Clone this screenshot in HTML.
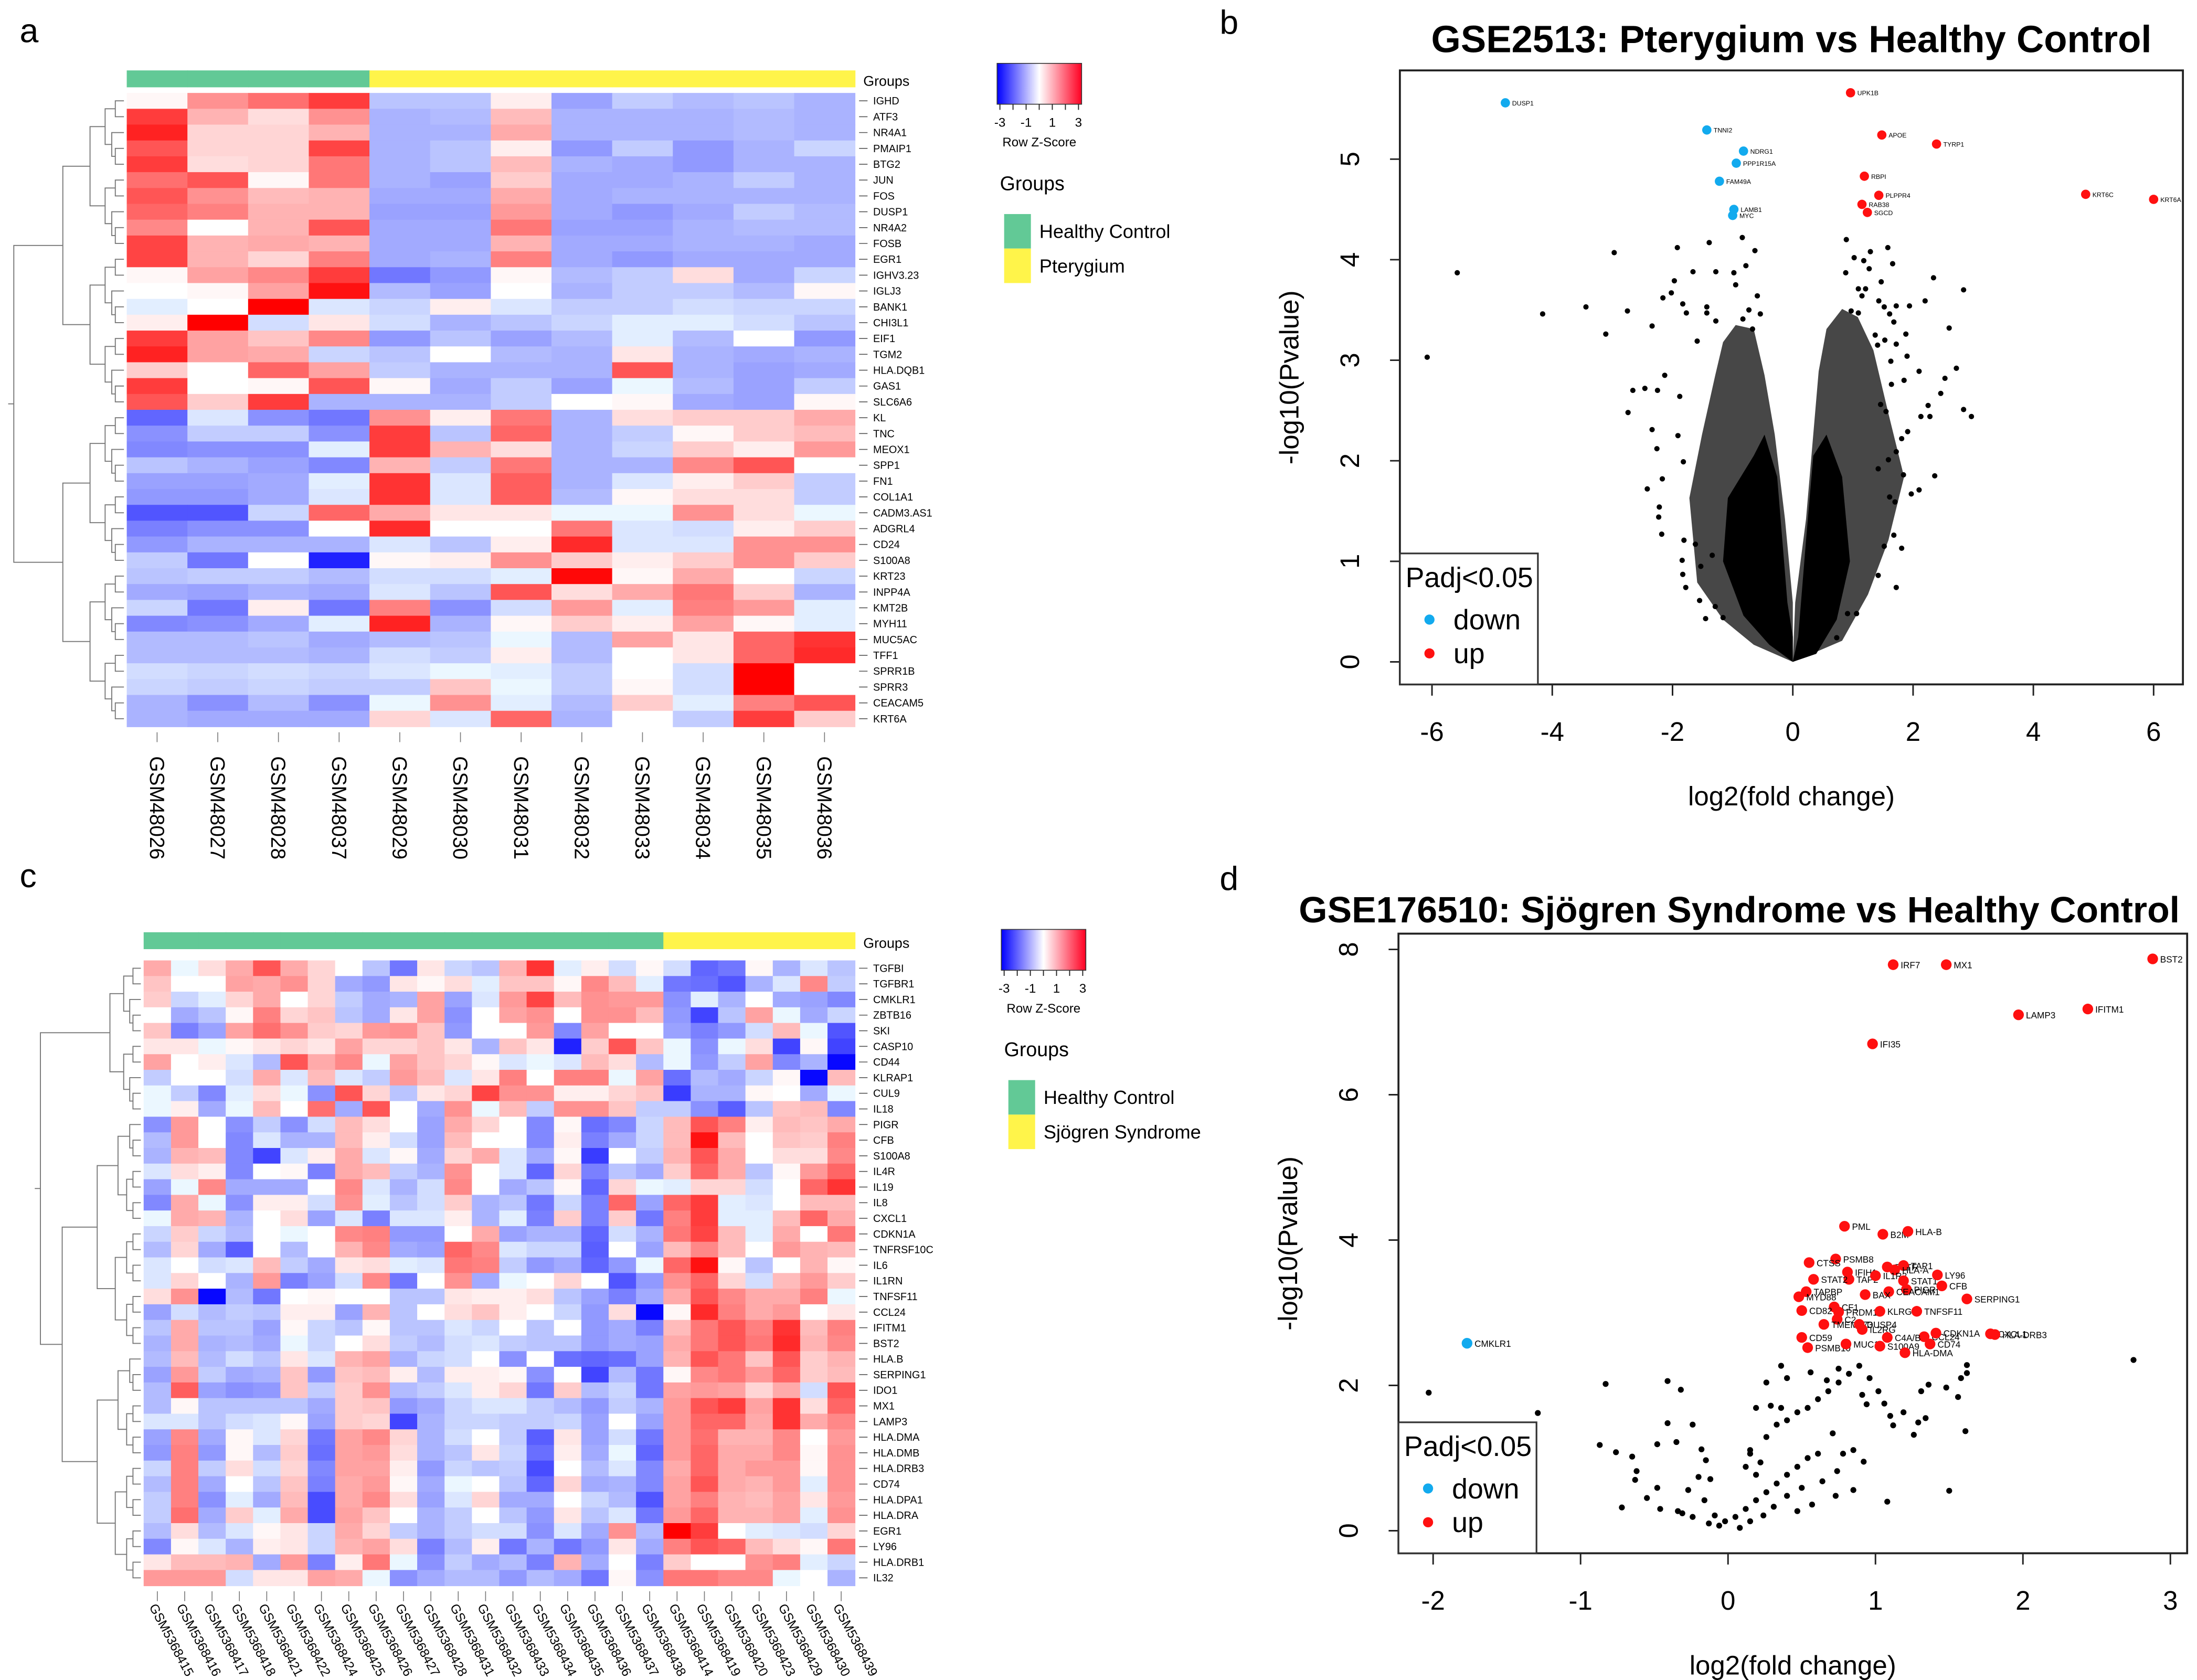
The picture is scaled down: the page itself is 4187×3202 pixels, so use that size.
<!DOCTYPE html>
<html><head><meta charset="utf-8">
<style>
html,body{margin:0;padding:0;background:#fff;}
svg{display:block;font-family:"Liberation Sans",Arial,sans-serif;}
</style></head>
<body>
<svg id="fig" width="4187" height="3202" viewBox="0 0 1560 1193" preserveAspectRatio="none" xmlns="http://www.w3.org/2000/svg">
<rect x="0" y="0" width="1560" height="1193" fill="#fff"/>
<text x="14" y="30" font-size="24">a</text>
<text x="866" y="24" font-size="24">b</text>
<text x="14" y="630" font-size="24">c</text>
<text x="866" y="632" font-size="24">d</text>
<g id="ga"></g>
<g id="gc"></g>
<g id="gb"></g>
<g id="gd"></g>
</svg>
<script>
// ---------- Heatmap A data ----------
const genesA=["IGHD","ATF3","NR4A1","PMAIP1","BTG2","JUN","FOS","DUSP1","NR4A2","FOSB","EGR1","IGHV3.23","IGLJ3","BANK1","CHI3L1","EIF1","TGM2","HLA.DQB1","GAS1","SLC6A6","KL","TNC","MEOX1","SPP1","FN1","COL1A1","CADM3.AS1","ADGRL4","CD24","S100A8","KRT23","INPP4A","KMT2B","MYH11","MUC5AC","TFF1","SPRR1B","SPRR3","CEACAM5","KRT6A"];
const samplesA=["GSM48026","GSM48027","GSM48028","GSM48037","GSM48029","GSM48030","GSM48031","GSM48032","GSM48033","GSM48034","GSM48035","GSM48036"];
const groupsA=[0,0,0,0,1,1,1,1,1,1,1,1];
const zA=[
[0.1,1.3,1.7,2.3,-0.7,-0.7,0.2,-1.1,-0.6,-0.8,-0.7,-0.9],
[2.3,0.9,0.4,1.3,-0.9,-0.8,0.8,-0.9,-0.9,-0.9,-0.8,-0.9],
[2.6,0.5,0.5,0.9,-0.9,-0.9,1.0,-0.9,-0.9,-0.9,-0.8,-0.9],
[2.0,0.5,0.5,2.2,-0.9,-0.7,0.2,-1.2,-0.6,-1.2,-0.9,-0.5],
[2.3,0.4,0.5,1.6,-0.9,-0.7,0.8,-0.9,-1.0,-1.2,-0.9,-0.9],
[1.7,2.0,0.1,1.6,-0.9,-1.1,0.6,-1.0,-1.0,-0.9,-0.6,-0.9],
[2.0,1.3,0.8,0.9,-1.0,-1.0,1.0,-1.0,-0.9,-0.9,-0.9,-0.9],
[1.8,1.5,0.9,0.9,-1.1,-1.1,1.2,-1.0,-1.2,-1.0,-0.6,-0.8],
[1.4,0,0.9,2.0,-1.0,-1.0,1.6,-1.1,-1.1,-0.9,-0.8,-0.8],
[2.2,0.9,1.0,0.9,-1.0,-1.0,0.9,-1.0,-1.0,-0.9,-0.9,-1.0],
[2.2,0.9,0.5,1.5,-1.0,-0.9,1.5,-1.0,-1.2,-1.0,-1.0,-1.0],
[0.1,1.1,1.4,2.3,-1.6,-1.2,0.1,-0.8,-0.6,0.4,-1.0,-0.5],
[0,0.1,1.1,2.8,-0.8,-1.1,0,-0.9,-0.6,-0.6,-0.8,0.1],
[-0.2,0,3,-0.3,-0.5,0.2,-0.3,-0.6,-0.6,-0.4,-0.5,-0.5],
[0.2,3,-0.4,0.3,-0.4,-0.9,-0.7,-0.5,-0.2,-0.2,-0.4,-0.7],
[2.3,1.1,0.7,1.4,-1.2,-0.7,-1.1,-0.8,-0.2,-0.8,0,-1.2],
[2.6,1.1,1.0,-0.5,-0.7,0,-0.8,-0.9,0.3,-0.9,-1.0,-0.9],
[0.6,0,1.8,1.1,-0.6,-0.9,-0.9,-0.9,2.0,-0.9,-1.1,-1.0],
[2.3,0,0.1,2.0,0.1,-1.0,-0.6,-1.1,-0.1,-0.8,-1.1,-0.6],
[2.0,0.6,2.3,-0.9,-0.9,-0.9,-0.6,0,0.1,-1.0,-1.1,0.1],
[-1.8,-0.3,-1.3,-1.6,1.3,0.2,1.6,-0.9,0.4,0.6,0.6,1.0],
[-1.3,-0.6,-0.6,-1.3,2.3,-0.7,1.8,-0.9,-0.6,0.1,0.6,0.8],
[-1.4,-1.3,-1.3,-0.2,2.3,0.9,0.4,-0.9,-0.5,0.6,0.2,1.2],
[-0.7,-0.9,-1.1,-1.4,0.9,-0.6,1.6,-0.9,-0.9,1.4,2.0,0],
[-1.1,-1.1,-1.0,-0.2,2.4,-0.3,1.9,-0.9,-0.3,0.2,0.6,-0.6],
[-1.2,-1.2,-1.0,-0.3,2.4,-0.3,1.9,-0.8,0.1,0.4,0.4,-0.6],
[-2.0,-2.0,-0.5,1.8,1.0,0.3,0.3,-0.1,-0.1,1.3,0.4,-0.1],
[-1.5,-1.3,-1.3,0,2.5,0,0,1.6,-0.3,-0.4,0.2,0.6],
[-1.2,-0.9,-0.9,-0.9,-0.3,-0.7,0.2,2.5,-0.3,-0.3,1.3,1.3],
[-0.6,-1.6,0,-2.6,0.1,0.2,1.3,0.6,0.2,0.6,1.3,0.6],
[-0.7,-0.6,-0.6,-0.8,-0.4,-0.4,-0.2,2.9,0.1,1.0,0,-0.5],
[-1.0,-1.1,-0.9,-1.0,-0.3,-0.7,2.0,0.4,1.0,1.6,0.6,-0.9],
[-0.5,-1.6,0.2,-1.6,1.5,-1.3,-0.4,1.2,-0.2,1.5,1.2,-0.2],
[-1.4,-1.3,-1.0,-0.2,2.6,-0.9,0.1,0.6,0.2,1.1,0.1,-0.2],
[-0.8,-0.8,-0.7,-1.0,-0.8,-0.7,-0.1,-0.8,1.1,0.3,1.8,2.4],
[-0.8,-0.8,-0.8,-0.9,-0.4,-0.6,0.2,-0.8,0,0.3,1.8,2.5],
[-0.4,-0.5,-0.4,-0.5,-0.3,-0.1,-0.2,-0.6,0,-0.4,3,0],
[-0.5,-0.6,-0.5,-0.6,-0.6,0.7,-0.1,-0.6,0.1,-0.4,3,0],
[-0.9,-1.3,-0.8,-1.3,-0.1,1.3,-0.2,-0.8,0.6,-0.2,1.5,2.0],
[-0.9,-1.0,-1.0,-1.0,0.5,-0.3,1.8,-0.9,0,-0.6,2.3,0.6]];

// ---------- Heatmap C data ----------
const genesC=["TGFBI","TGFBR1","CMKLR1","ZBTB16","SKI","CASP10","CD44","KLRAP1","CUL9","IL18","PIGR","CFB","S100A8","IL4R","IL19","IL8","CXCL1","CDKN1A","TNFRSF10C","IL6","IL1RN","TNFSF11","CCL24","IFITM1","BST2","HLA.B","SERPING1","IDO1","MX1","LAMP3","HLA.DMA","HLA.DMB","HLA.DRB3","CD74","HLA.DPA1","HLA.DRA","EGR1","LY96","HLA.DRB1","IL32"];
const samplesC=["GSM5368415","GSM5368416","GSM5368417","GSM5368418","GSM5368421","GSM5368422","GSM5368424","GSM5368425","GSM5368426","GSM5368427","GSM5368428","GSM5368431","GSM5368432","GSM5368433","GSM5368434","GSM5368435","GSM5368436","GSM5368437","GSM5368438","GSM5368414","GSM5368419","GSM5368420","GSM5368423","GSM5368429","GSM5368430","GSM5368439"];
const groupsC=[0,0,0,0,0,0,0,0,0,0,0,0,0,0,0,0,0,0,0,1,1,1,1,1,1,1];
const zC=[
[1.0,-0.1,0.4,1.0,2.0,1.0,0.5,0,-0.7,-1.6,0.3,-0.5,-0.7,0.9,2.4,-0.2,0.2,-0.4,0.1,-0.4,-1.8,-1.6,0.1,-0.9,-0.3,-0.7],
[0.7,0,0,1.1,1.0,1.3,0.5,-1.0,-1.2,0.3,0.1,0.4,-0.2,0.7,0.7,0.1,1.4,0.8,-0.2,-1.6,-1.7,-2.0,-0.9,-0.3,1.4,-0.6],
[0.6,-0.5,-0.2,0.5,1.0,0,0.5,-0.6,-1.0,-0.9,1.1,-1.1,-0.3,1.2,2.2,0.8,1.3,1.2,1.2,-1.3,-0.2,-0.9,0,-1.0,-1.1,-1.4],
[0,-1.0,-0.7,0.1,1.5,0.5,0.7,-0.7,-1.0,0.3,1.1,-1.3,0,1.1,1.3,0,1.3,1.3,0.8,-1.2,-2.2,-0.7,1.1,-0.1,-1.0,-0.5],
[0.7,-1.5,-1.1,1.1,1.7,1.3,0.6,0.5,1.2,1.3,0.7,-1.2,0,0,1.2,-1.4,1.1,0,0,-1.1,-1.5,-1.2,-0.4,0.8,-0.1,-2.0],
[0.3,0.3,-0.1,0.1,0.3,0.5,0.3,1.1,0.5,0.5,0.7,0.3,-0.9,0.7,0.3,-2.6,0.6,2.0,0.7,-0.1,-1.3,-0.1,0.4,-2.2,0.1,-2.2],
[1.1,0,0.2,-0.3,-0.8,2.0,1.0,1.4,-0.1,1.1,0.7,0.5,0.1,-0.3,-0.1,-0.3,0.8,0.4,-0.8,-0.1,-1.2,-0.6,1.1,-1.4,-0.9,-2.9],
[-0.6,0,0,-0.4,1.0,-0.3,0.8,-0.3,-0.6,1.2,0.8,-0.3,0.3,1.5,0,1.5,1.5,-0.1,1.1,-1.7,-0.8,-1.0,-0.5,0.1,-2.9,0.8],
[-0.1,-0.6,-1.4,-0.2,0.4,-0.1,-1.3,2.0,0.5,-0.7,0.3,0.5,2.2,1.3,1.3,0.2,0.2,0.5,0.7,-2.3,-0.9,-0.9,0.1,0,-1.0,-0.1],
[-0.1,0.2,-1.0,-0.1,0.8,0,1.7,-1.0,2.0,0,-1.0,1.3,-0.1,0.8,-0.6,1.3,1.3,0.7,-0.6,-0.6,-1.3,-1.9,-0.7,0.7,0.8,-1.4],
[-1.3,1.2,0,-1.3,-0.6,-1.3,-0.4,0.8,0.4,0,-1.1,1.0,0.5,0,-1.4,0.1,-1.7,-1.4,-0.5,0.8,2.0,1.5,0.2,0.8,0.7,1.0],
[-0.8,1.2,0,-1.4,-0.3,-0.9,-0.9,0.8,0.2,-0.4,-1.1,0.8,0,0,-1.4,0.2,-1.5,-1.0,-0.5,0.8,2.8,0.8,0,0.7,0.6,1.5],
[-0.9,0.9,0.8,-1.4,-2.2,-0.3,0.2,1.0,-0.3,0.1,-1.0,0.5,1.0,-0.3,-1.0,0.1,-2.3,0,-0.6,0.9,2.0,1.0,0,0.4,0.4,1.4],
[-0.3,0.4,0.2,-1.4,0,0.1,-1.5,1.0,0.8,-0.6,-0.9,1.3,0,-0.3,-1.8,0.5,-1.5,-0.7,-1.0,0.6,1.8,1.0,-0.7,0.1,1.2,1.8],
[-1.1,-0.1,1.4,-1.0,-1.0,-1.0,0,1.4,-0.3,-0.9,-0.4,1.4,0,-1.0,-0.7,0.1,-1.8,0.5,-0.1,-0.2,0.5,0.5,-0.4,0,1.8,2.4],
[-1.4,1.0,-0.1,-1.3,0.2,0.2,-0.4,1.3,-0.2,-0.7,-0.4,0.6,-0.9,-0.7,-1.6,-0.5,-1.5,1.8,-1.1,1.8,2.3,-0.2,-0.3,0,0.8,0.8],
[-0.1,1.0,0.9,-0.9,0,0.4,-1.1,-0.3,-1.5,-0.3,-0.3,0.2,-0.9,-0.2,-1.5,0.6,-1.5,0.6,-1.6,1.5,2.3,-0.2,-0.2,0.8,1.8,1.0],
[-0.5,0.6,-0.5,-0.8,0,-0.1,0,1.4,1.5,-1.2,-1.2,0,1.0,-1.1,-0.9,-0.9,-1.8,-0.4,-0.9,1.6,2.2,0.8,-0.2,1.0,0,1.6],
[-0.8,0.5,-1.0,-1.9,0,-0.8,0,0.9,1.4,-1.0,-1.1,1.8,1.4,-0.3,-0.5,-0.5,-1.9,0,-1.1,0.8,1.4,0.8,0,1.2,0.9,0.8],
[-0.3,0,-0.4,-0.3,0.8,-0.6,-1.0,0.3,0.4,-0.2,-0.3,1.6,1.5,-0.6,-1.2,-1.0,-1.8,-1.2,-0.1,1.8,2.8,0.1,-0.7,0,0.9,0.1],
[-0.3,0.5,0,-0.9,1.2,-1.5,-1.1,-0.4,1.4,-1.6,0,1.3,-1.0,-0.1,0,0.5,0,-2.0,-1.2,1.3,1.8,0.5,-0.4,0.8,1.2,0.6],
[0.4,1.3,-2.9,-0.8,-1.6,0,0.1,0,0,-0.7,-0.7,0.3,0.2,0.2,0.4,-0.7,-1.1,-1.5,-1.0,1.0,2.0,1.4,1.0,1.0,1.5,-0.1],
[-1.1,-0.4,-0.8,-0.6,-0.7,0.2,0.2,-1.1,0.9,-0.7,0,0.4,0.7,0.2,0,-0.5,-1.2,0.4,-2.9,0.1,2.5,1.5,1.0,1.2,0,0.3],
[-0.7,1.0,-0.7,-0.7,-1.1,0.1,-0.5,-0.7,0.1,-0.7,-0.7,-0.3,-0.5,0,-0.7,0,-1.2,-1.0,-1.5,0.8,1.6,2.0,1.5,2.4,0.8,1.5],
[-0.9,1.0,-0.9,-0.8,-1.0,-0.1,-0.5,0,0.4,-0.6,-0.8,-0.4,-0.3,-0.6,-0.7,-0.7,-1.2,-1.0,-1.1,1.0,1.6,2.0,1.6,2.5,0.9,1.4],
[-0.8,0.8,-0.8,-0.4,-0.7,0.3,-0.3,0.9,1.1,-0.9,-0.5,-0.4,0,-1.3,0,-1.7,-1.8,-1.7,-1.1,0.9,2.0,1.6,0.7,2.0,0.6,0.9],
[-1.1,1.2,-0.6,-1.0,-0.9,0.7,-1.2,0.7,0.8,0.2,-0.8,0.2,0.2,0.1,-1.3,0,-2.2,-0.8,-1.6,0.1,1.4,1.6,1.2,1.8,0.6,0.8],
[-0.8,1.9,-1.1,-1.3,-1.2,0.7,-0.6,0.6,1.3,-0.8,-0.6,-0.3,0.2,0.5,-1.6,0.6,-0.8,-0.5,-1.6,1.1,1.2,1.1,0.5,1.0,-0.4,2.0],
[-0.8,0.1,-0.7,-0.7,-0.7,-0.7,-1.0,0.6,0.7,-1.2,-1.0,-0.5,-0.3,-0.3,-0.6,-0.8,-1.2,-0.6,-0.9,1.2,2.0,2.3,1.1,2.4,0.4,1.8],
[-0.3,-0.3,-0.7,-0.4,-0.3,0.1,-1.1,0.6,0.5,-2.2,-0.9,-0.5,-0.5,-0.6,-0.6,-0.5,-1.1,0,-1.1,1.2,1.8,1.8,1.0,2.4,1.0,1.4],
[-1.1,1.4,-1.0,0.1,-0.3,0.5,-1.6,1.1,1.4,0.5,-0.9,-0.4,0,-0.6,-1.9,0.3,-1.1,-0.4,-1.6,1.2,1.7,0.9,0.9,1.4,0,1.2],
[-1.2,1.5,-1.2,0.1,-0.8,0.6,-1.7,1.1,1.2,0.4,-0.9,-0.7,0.3,-0.5,-1.7,0.2,-1.0,-0.1,-1.8,1.2,1.8,1.0,1.0,1.4,0.1,1.3],
[-0.5,1.5,-0.6,0.4,-0.4,0.5,-1.4,1.1,1.1,0.2,-1.2,-0.5,-0.7,-0.6,-2.1,0,-0.8,-0.3,-1.4,1.0,1.8,1.0,1.2,1.2,0.1,1.3],
[-0.8,1.5,-1.0,0,-0.7,0.7,-1.5,1.0,1.2,0.1,-1.0,-0.1,0,-0.7,-1.8,0.5,-1.0,-0.9,-1.4,1.1,2.0,1.0,0.9,1.2,-0.2,1.3],
[-0.6,1.5,-1.3,-0.2,-1.0,0.8,-2.1,1.0,1.4,0.4,-1.1,-0.3,0.5,-1.0,-1.0,0,-0.5,-0.8,-2.0,1.1,1.5,0.9,0.8,1.1,0.3,1.2],
[-0.6,1.7,-1.0,0.6,-0.2,1.0,-2.1,1.1,0.7,0,-0.9,-0.6,0,-0.7,-1.2,0.3,-0.7,-0.3,-1.6,1.2,1.8,0.9,0.9,1.1,-0.2,1.3],
[-0.8,0.4,-0.8,-0.3,0.1,0.3,-0.5,1.0,0.5,-0.6,-0.9,-0.6,-0.4,-0.4,-1.3,-0.3,-1.0,1.3,-0.8,3,2.3,0,-0.2,-0.3,-0.4,0.5],
[-1.4,0.1,-0.3,-0.9,0.2,0.3,-0.5,0.9,1.1,0.4,-1.5,-0.8,0.2,-1.6,-0.9,-1.6,-1.2,0.3,-1.0,1.5,2.0,1.8,0.8,0.4,0.1,1.6],
[0.3,0.8,0.8,0.9,-1.0,1.2,-1.5,0.2,1.6,-0.1,-1.3,-0.6,-1.0,-0.8,-1.5,0.9,-1.0,0,-1.5,0.6,0,0,1.3,1.5,-0.2,-0.5],
[1.2,1.2,1.2,-0.4,0.3,0.3,1.1,1.0,-0.1,-1.3,-1.0,-0.8,-0.8,-1.2,-0.8,-1.0,-1.6,0.1,-1.3,1.6,1.6,1.4,1.4,-0.1,0,-0.9]];

// ---------- Volcano B data ----------
const bXTicks=[-6,-4,-2,0,2,4,6];
const bYTicks=[0,1,2,3,4,5];
const bSigGenes=["DUSP1","TNNI2","NDRG1","PPP1R15A","FAM49A","LAMB1","MYC","UPK1B","APOE","TYRP1","RBPI","PLPPR4","RAB38","SGCD","KRT6C","KRT6A"];
const bSigFC=[-4.78,-1.43,-0.82,-0.94,-1.22,-0.98,-1.0,0.96,1.48,2.39,1.19,1.43,1.15,1.24,4.87,6.0];
const bSigP=[5.56,5.29,5.08,4.96,4.78,4.5,4.44,5.66,5.24,5.15,4.83,4.64,4.55,4.47,4.65,4.6];
const bSigDir=["down","down","down","down","down","down","down","up","up","up","up","up","up","up","up","up"];
const bNsFC=[-5.58,-6.08,-4.16,-3.44,-2.97,-3.11,-2.75,-2.34,-2.16,-2.02,-1.97,-1.92,-1.83,-1.77,-1.66,-1.59,-1.43,-1.43,-1.39,-1.28,-1.28,-0.98,-0.95,-0.84,-0.78,-0.73,-0.63,-0.59,-0.54,-0.83,-0.67,-2.13,-2.66,-2.46,-2.25,-2.74,-1.88,-2.34,-2.26,-1.91,-1.82,-2.42,-2.17,-2.22,-2.23,-2.18,-1.81,-1.62,-1.84,-1.83,-1.78,-1.55,-1.29,-1.45,-1.16,-1.53,-1.34,
0.89,0.88,1.02,1.18,1.27,1.29,1.58,1.66,1.47,1.09,1.21,1.15,1.43,1.52,1.72,1.94,2.2,2.34,2.84,2.6,1.88,1.68,1.61,0.97,1.09,2.72,2.53,2.46,2.28,2.13,2.25,2.1,1.9,1.85,2.84,2.97,2.36,2.1,1.97,1.84,1.91,1.81,1.72,1.81,1.68,1.52,1.42,1.06,0.91,0.73,1.7,1.61,1.42,1.59,1.72,1.37,1.41,1.53,1.72,1.63,1.64,1.55,1.46];
const bNsP=[3.87,3.03,3.46,3.53,4.07,3.26,3.49,3.34,3.62,3.67,3.79,4.12,3.56,3.47,3.88,3.19,3.53,3.47,4.17,3.88,3.39,3.87,3.75,4.22,3.94,3.5,4.09,3.64,3.46,3.41,3.31,2.85,2.7,2.72,2.7,2.48,2.64,2.31,2.12,2.25,1.99,1.72,1.82,1.54,1.44,1.27,1.21,1.17,1.01,0.87,0.74,0.61,0.55,0.43,0.44,0.95,1.06,
4.2,3.87,4.02,3.99,3.91,4.08,4.12,3.96,3.78,3.71,3.71,3.64,3.59,3.53,3.54,3.54,3.59,3.82,3.7,3.32,3.26,3.38,3.46,3.49,3.47,2.92,2.82,2.67,2.44,2.44,2.55,2.89,3.04,2.8,2.51,2.44,1.85,1.71,1.67,1.86,2.29,2.22,0.74,1.13,1.26,1.15,0.86,0.48,0.48,0.24,1.59,1.64,1.92,2.01,2.09,3.25,3.15,3.2,3.16,2.99,2.76,2.49,2.56];
// density envelopes (fold change, -log10 p)
const bCoreLeftFC=[0,-0.39,-0.82,-1.16,-1.08,-0.65,-0.47,-0.26,-0.09,0];
const bCoreLeftP=[0,0.17,0.46,1.0,1.63,2.05,2.26,1.84,0.59,0.25];
const bCoreRightFC=[0,0.09,0.22,0.34,0.56,0.82,0.95,0.73,0.39];
const bCoreRightP=[0,0.25,1.21,2.05,2.26,1.84,1.0,0.42,0.08];
const bHaloLeftFC=[0,-0.65,-1.16,-1.59,-1.72,-1.51,-1.29,-1.16,-0.95,-0.65,-0.47,-0.3,-0.13,0];
const bHaloLeftP=[0,0.17,0.42,0.79,1.63,2.26,2.85,3.18,3.35,3.31,2.85,2.26,1.42,0.59];
const bHaloRightFC=[0,0.04,0.22,0.34,0.43,0.56,0.82,1.08,1.34,1.59,1.85,1.59,1.25,0.82];
const bHaloRightP=[0,0.59,1.42,2.26,2.89,3.31,3.51,3.43,3.1,2.47,1.84,1.21,0.67,0.21];

// ---------- Volcano D data ----------
const dXTicks=[-2,-1,0,1,2,3];
const dYTicks=[0,2,4,6,8];
const dSigGenes=["IRF7","MX1","BST2","LAMP3","IFITM1","IFI35","PML","B2M","HLA-B","PSMB8","CTSS","BATF","TAP1","HLA-A","IFIH1","TAP2","IL1R2","STAT2","STAT1","LY96","CFB","PIGR","CEACAM1","BAX","TAPBP","MYD88","SERPING1","CF1","CD82","PRDM1","C2","KLRG1","TNFSF11","TMEM173","DUSP4","IL2RG","CCL24","CDKN1A","C4A/B","CD74","CXCL1","HLA-DRB3","CD59","PSMB10","MUC1","S100A9","HLA-DMA","CMKLR1"];
const dSigFC=[1.12,1.48,2.88,1.97,2.44,0.98,0.79,1.05,1.22,0.73,0.55,1.08,1.19,1.13,0.81,0.82,1.0,0.58,1.19,1.42,1.45,1.21,1.09,0.93,0.53,0.48,1.62,0.72,0.5,0.75,0.74,1.03,1.28,0.65,0.89,0.91,1.33,1.41,1.08,1.37,1.78,1.81,0.5,0.54,0.8,1.03,1.2,-1.77];
const dSigP=[7.79,7.79,7.87,7.1,7.18,6.7,4.19,4.08,4.12,3.74,3.69,3.63,3.65,3.59,3.56,3.46,3.51,3.46,3.44,3.52,3.37,3.32,3.29,3.25,3.29,3.22,3.19,3.08,3.03,3.01,2.91,3.02,3.02,2.84,2.84,2.77,2.67,2.72,2.66,2.57,2.71,2.7,2.66,2.52,2.57,2.54,2.45,2.58];
const dNsFC=[-2.03,-1.29,-0.83,-0.41,-0.32,2.75,1.61,1.5,1.08,-0.87,-0.76,-0.72,-0.65,-0.62,-0.48,-0.35,-0.41,-0.24,-0.18,-0.15,-0.48,-0.63,-0.55,-0.46,-0.34,-0.27,-0.2,-0.12,-0.16,-0.09,-0.02,0.05,0.12,0.19,0.26,0.33,0.4,0.47,0.54,0.61,0.19,0.12,0.15,0.26,0.33,0.4,0.47,0.54,0.61,0.68,0.75,0.82,0.89,0.96,0.36,0.4,0.26,0.56,0.75,0.67,0.91,0.94,1.02,1.06,1.1,1.19,1.12,1.26,1.29,1.34,1.31,1.36,1.48,1.56,1.58,1.62,1.62,0.36,0.29,0.19,0.15,0.22,0.71,0.78,0.85,0.92,0.74,0.85,0.73,0.57,0.47,0.5,0.64,0.4,0.31,0.24,0.15,0.08,-0.06,-0.13,-0.24,-0.31];
const dNsP=[1.9,1.62,2.02,2.06,1.94,2.35,1.37,0.55,0.4,1.18,1.08,0.32,1.02,0.82,1.19,1.22,1.48,1.46,1.12,0.97,0.59,0.7,0.45,0.3,0.27,0.56,0.74,0.71,0.42,0.21,0.13,0.19,0.3,0.42,0.53,0.65,0.77,0.88,1.0,1.06,0.77,0.88,1.11,1.29,1.46,1.52,1.63,1.69,1.81,1.92,2.04,2.16,2.27,2.1,2.27,2.1,2.04,2.18,2.23,2.07,1.87,1.74,1.92,1.75,1.58,1.63,1.45,1.32,1.49,1.55,1.92,2.01,1.97,1.84,2.1,2.28,2.17,1.69,1.72,1.69,1.06,0.94,1.34,1.06,1.11,0.95,0.82,0.56,0.48,0.36,0.27,0.59,0.68,0.48,0.33,0.21,0.13,0.04,0.07,0.1,0.19,0.24];

// ---------- helpers ----------
const NS="http://www.w3.org/2000/svg";
function mk(parent,tag,attrs,text){const e=document.createElementNS(NS,tag);for(const k in attrs)e.setAttribute(k,attrs[k]);if(text!==undefined)e.textContent=text;parent.appendChild(e);return e;}
function zcol(v){const t=Math.max(-1,Math.min(1,v/3));
 if(t>=0){const g=Math.round(255*(1-t));return `rgb(255,${g},${g})`;}
 const a=-t;const c=Math.round(255*(1-a));return `rgb(${Math.round(c*0.95)},${c},255)`;}
const GROUPCOL=["#62c996","#fff44a"];

function dendro(g,lo,hi,leafX,y0,rh,scale,root){
 function rec(a,b){
  if(a===b)return {x:leafX,y:y0+rh*(a+0.5)};
  const m=(a===lo&&b===hi&&root!==undefined)?root:Math.floor((a+b+1)/2);
  const L=rec(a,m-1),R=rec(m,b);
  const x=leafX-Math.pow(b-a+1,0.85)*scale;
  const p=mk(g,"path",{d:`M${L.x},${L.y}H${x}V${R.y}H${R.x}`,fill:"none",stroke:"#777","stroke-width":0.7});
  
  
  return {x:x,y:(L.y+R.y)/2};
 }
 const r=rec(lo,hi);
 const stub=mk(g,"path",{d:`M${r.x},${r.y}H${r.x-4}`,stroke:"#777","stroke-width":0.7});
 
 
}

function heatmap(g,o){
 const nR=o.genes.length,nC=o.samples.length;
 const cw=(o.x1-o.x0)/nC, rh=(o.y1-o.y0)/nR;
 for(let j=0;j<nC;j++){
  const r=mk(g,"rect",{x:o.x0+j*cw,y:o.gy0,width:cw+0.4,height:o.gy1-o.gy0,fill:GROUPCOL[o.groups[j]]});
  
  
 }
 const gt=mk(g,"text",{x:o.x1+6,y:o.gy1-1,"font-size":10},"Groups");
 
 
 for(let i=0;i<nR;i++){
  for(let j=0;j<nC;j++){
   const v=(o.z[i]&&o.z[i][j]!==undefined)?o.z[i][j]:0;
   const c=mk(g,"rect",{x:o.x0+j*cw,y:o.y0+i*rh,width:cw+0.35,height:rh+0.35,fill:zcol(v)});
   
   
  }
  const yy=o.y0+(i+0.5)*rh;
  mk(g,"line",{x1:o.x1+3,x2:o.x1+9,y1:yy,y2:yy,stroke:"#555","stroke-width":0.6});
  const t=mk(g,"text",{x:o.x1+13,y:yy+2.6,"font-size":7.4},o.genes[i]);
  
  
 }
 for(let j=0;j<nC;j++){
  const xx=o.x0+(j+0.5)*cw;
  mk(g,"line",{x1:xx,x2:xx,y1:o.y1+4,y2:o.y1+11,stroke:"#777","stroke-width":0.6});
  const ty=o.labY;
  const t=mk(g,"text",{x:xx+o.labDx,y:ty,"font-size":o.labFs,transform:`rotate(${o.labRot},${xx+o.labDx},${ty})`},o.samples[j]);
  
  
 }
 dendro(g,0,nR-1,o.x0-2,o.y0,rh,o.dscale,o.root);
}

function colorKey(g,x,y,groupTop,names){
 const id="grad"+x+"_"+y;
 const defs=mk(g,"defs",{});
 const lg=mk(defs,"linearGradient",{id:id,x1:"0",x2:"1",y1:"0",y2:"0"});
 [["0%","#0000ff"],["50%","#ffffff"],["100%","#ff0022"]].forEach(s=>mk(lg,"stop",{offset:s[0],"stop-color":s[1]}));
 const r=mk(g,"rect",{x:x,y:y,width:60,height:29,fill:`url(#${id})`,stroke:"#333","stroke-width":0.6});
 
 
 for(let k=0;k<7;k++){mk(g,"line",{x1:x+2+k*9.3,x2:x+2+k*9.3,y1:y+29,y2:y+33,stroke:"#222","stroke-width":0.7});}
 [["-3",0],["-1",2],["1",4],["3",6]].forEach(a=>{const t=mk(g,"text",{x:x+2+a[1]*9.3,y:y+45,"font-size":9,"text-anchor":"middle"},a[0]);});
 const rz=mk(g,"text",{x:x+30,y:y+59,"font-size":9,"text-anchor":"middle"},"Row Z-Score");
 
 
 const gt=mk(g,"text",{x:x+2,y:groupTop,"font-size":14},"Groups");
 
 
 for(let k=0;k<2;k++){
  const b=mk(g,"rect",{x:x+5,y:groupTop+17+k*24.5,width:19,height:24.5,fill:GROUPCOL[k]});
  
  
  const t=mk(g,"text",{x:x+30,y:groupTop+34+k*24.5,"font-size":13.5},names[k]);
  
  
 }
}

function volcano(g,o){
 const sx=v=>o.xz+o.xu*v, sy=v=>o.yz-o.yu*v;
 const box=mk(g,"rect",{x:o.bx0,y:o.by0,width:o.bx1-o.bx0,height:o.by1-o.by0,fill:"none",stroke:"#222","stroke-width":1.4});
 
 
 o.xt.forEach(v=>{mk(g,"line",{x1:sx(v),x2:sx(v),y1:o.by1,y2:o.by1+8,stroke:"#222","stroke-width":1.1});
  const t=mk(g,"text",{x:sx(v),y:o.by1+40,"font-size":19,"text-anchor":"middle"},String(v));
  });
 o.yt.forEach(v=>{mk(g,"line",{x1:o.bx0-7,x2:o.bx0,y1:sy(v),y2:sy(v),stroke:"#222","stroke-width":1.1});
  const t=mk(g,"text",{x:o.bx0-29,y:sy(v),"font-size":19,"text-anchor":"middle",transform:`rotate(-90,${o.bx0-29},${sy(v)})`},String(v));
  });
 const xt=mk(g,"text",{x:(o.bx0+o.bx1)/2,y:o.by1+86,"font-size":19,"text-anchor":"middle"},"log2(fold change)");
 
 const yx=o.bx0-72,yy=(o.by0+o.by1)/2;
 const yt=mk(g,"text",{x:yx,y:yy,"font-size":19,"text-anchor":"middle",transform:`rotate(-90,${yx},${yy})`},"-log10(Pvalue)");
 
 const ti=mk(g,"text",{x:o.tx,y:o.ty,"font-size":o.tfs,"font-weight":"bold","text-anchor":"middle"},o.title);
 
 (o.polys||[]).forEach(pl=>{
  const pts=pl.fc.map((v,i)=>sx(v)+","+sy(pl.p[i])).join(" ");
  const pg=mk(g,"polygon",{points:pts,fill:"#000","fill-opacity":pl.op});
  
  
 });
 o.nsFC.forEach((v,i)=>{const c=mk(g,"circle",{cx:sx(v),cy:sy(o.nsP[i]),r:o.nsR,fill:"#000"});
  });
 o.sigFC.forEach((v,i)=>{const up=o.sigDir?o.sigDir[i]==="up":v>0;
  const c=mk(g,"circle",{cx:sx(v),cy:sy(o.sigP[i]),r:o.sigR,fill:up?"#ff1010":"#12aaee"});
  
  const t=mk(g,"text",{x:sx(v)+o.sigR+1.5,y:sy(o.sigP[i])+o.lfs*0.4,"font-size":o.lfs},o.sigGenes[i]);
  });
 const L=o.leg;
 const lb=mk(g,"rect",{x:L.x,y:L.y,width:98,height:o.by1-L.y,fill:"#fff",stroke:"#333","stroke-width":1.2});
 
 const lt=mk(g,"text",{x:L.x+4,y:L.y+24,"font-size":20},"Padj<0.05");
 
 [["down","#12aaee",47],["up","#ff1010",71]].forEach(a=>{
  const c=mk(g,"circle",{cx:L.x+21,cy:L.y+a[2],r:3.6,fill:a[1]});
  
  const t=mk(g,"text",{x:L.x+38,y:L.y+a[2]+7,"font-size":20},a[0]);
  
 });
}

// ---------- draw ----------
heatmap(document.getElementById("ga"),{genes:genesA,samples:samplesA,groups:groupsA,z:zA,
 x0:90,x1:607,y0:66,y1:516,gy0:50,gy1:62,labY:537,labDx:-5,labRot:90,labFs:14.5,dscale:3.4,root:20});
heatmap(document.getElementById("gc"),{genes:genesC,samples:samplesC,groups:groupsC,z:zC,
 x0:102,x1:607,y0:682,y1:1126,gy0:662,gy1:674,labY:1141,labDx:-6,labRot:62,labFs:9.2,dscale:3.1,root:10});
colorKey(document.getElementById("ga"),708,45,135,["Healthy Control","Pterygium"]);
colorKey(document.getElementById("gc"),711,660,750,["Healthy Control","Sjögren Syndrome"]);

volcano(document.getElementById("gb"),{bx0:994,bx1:1550,by0:50,by1:486,xz:1273,xu:42.7,yz:470,yu:71.4,
 xt:bXTicks,yt:bYTicks,title:"GSE2513: Pterygium vs Healthy Control",tx:1272,ty:37,tfs:27,
 polys:[{fc:bHaloLeftFC,p:bHaloLeftP,op:0.72},{fc:bHaloRightFC,p:bHaloRightP,op:0.72},{fc:bCoreLeftFC,p:bCoreLeftP,op:1},{fc:bCoreRightFC,p:bCoreRightP,op:1}],
 nsFC:bNsFC,nsP:bNsP,nsR:1.9,sigFC:bSigFC,sigP:bSigP,sigDir:bSigDir,sigGenes:bSigGenes,sigR:3.3,lfs:4.6,
 leg:{x:994,y:393}});
volcano(document.getElementById("gd"),{bx0:993,bx1:1553,by0:663,by1:1103,xz:1227,xu:104.7,yz:1087,yu:51.6,
 xt:dXTicks,yt:dYTicks,title:"GSE176510: Sjögren Syndrome vs Healthy Control",tx:1235,ty:655,tfs:26,
 nsFC:dNsFC,nsP:dNsP,nsR:2.1,sigFC:dSigFC,sigP:dSigP,sigGenes:dSigGenes,sigR:3.8,lfs:6.4,
 leg:{x:993,y:1010}});
</script>
</body></html>
